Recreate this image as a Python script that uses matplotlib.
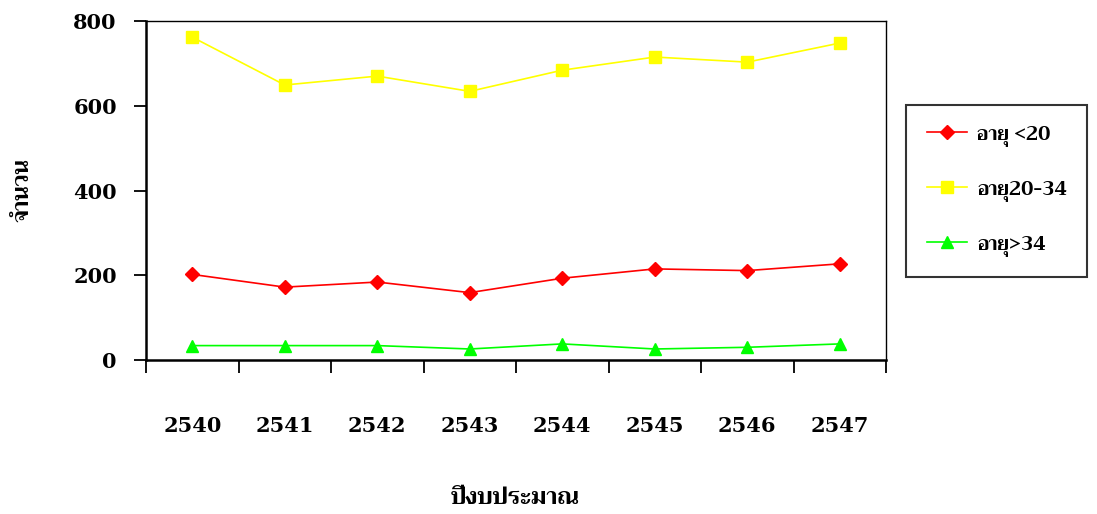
import numpy as np
import matplotlib
matplotlib.use("Agg")
import matplotlib.pyplot as plt
from matplotlib import font_manager
from matplotlib.ft2font import FT2Font

# ข้อมูลจำนวนจำแนกตามช่วงอายุ
years = ['2540', '2541', '2542', '2543', '2544', '2545', '2546', '2547']
age_lt20 = [202, 172, 184, 159, 193, 215, 211, 227]
age_20_34 = [762, 649, 670, 634, 684, 715, 703, 748]
age_gt34 = [34, 34, 34, 26, 38, 26, 30, 38]
series_names = ['อายุ <20', 'อายุ20-34', 'อายุ>34']


def find_thai_font():
    # หาฟอนต์ที่มีตัวอักษรไทย
    best = None
    for f in font_manager.fontManager.ttflist:
        try:
            cmap = FT2Font(f.fname).get_charmap()
        except Exception:
            continue
        if ord('อ') in cmap and ord('ำ') in cmap:
            if best is None or 'bold' in str(f.weight).lower() or f.weight == 700:
                best = f
    return best.name if best else 'DejaVu Sans'


thai_font = find_thai_font()
num_font = 'DejaVu Serif'

fig = plt.figure(figsize=(10.97, 5.14), dpi=100)
ax = fig.add_axes([0.1331, 0.2996, 0.6746, 0.6595])

x = np.arange(len(years))
ax.plot(x, age_lt20, color='#ff0000', lw=1.2, marker='D', ms=7.5, label=series_names[0])
ax.plot(x, age_20_34, color='#ffff00', lw=1.2, marker='s', ms=8.5, label=series_names[1])
ax.plot(x, age_gt34, color='#00ff00', lw=1.2, marker='^', ms=9, label=series_names[2])

ax.set_xlim(-0.5, len(years) - 0.5)
ax.set_ylim(0, 800)
ax.set_yticks([0, 200, 400, 600, 800])

# เส้นแบ่งหมวดที่แกน x
ax.set_xticks(np.arange(-0.5, len(years), 1.0))
ax.set_xticklabels([])
ax.set_xticks(x, minor=True)
ax.set_xticklabels(years, minor=True, fontfamily=num_font, fontweight='bold', fontsize=15)
ax.tick_params(axis='x', which='major', direction='out', length=9, width=1.3)
ax.tick_params(axis='x', which='minor', length=0, pad=40)
ax.tick_params(axis='y', direction='out', length=9, width=1.3, pad=12)
for lab in ax.get_yticklabels():
    lab.set_fontfamily(num_font)
    lab.set_fontweight('bold')
    lab.set_fontsize(15)

for s in ['left', 'bottom']:
    ax.spines[s].set_linewidth(1.8)
for s in ['top', 'right']:
    ax.spines[s].set_linewidth(1.0)

fig.text(0.021, 0.63, 'จำนวน', rotation=90, ha='center', va='center',
         fontfamily=[thai_font, 'DejaVu Sans'], fontweight='bold', fontsize=16)
fig.text(0.47, 0.03, 'ปีงบประมาณ', ha='center', va='center',
         fontfamily=[thai_font, 'DejaVu Sans'], fontweight='bold', fontsize=17)

leg = fig.legend(loc='upper left', bbox_to_anchor=(0.826, 0.796),
                 frameon=True, fancybox=False, edgecolor='black', handlelength=2.1,
                 labelspacing=1.75, borderpad=1.05, borderaxespad=0, handletextpad=0.5,
                 prop={'family': [thai_font, 'DejaVu Sans'], 'weight': 'bold', 'size': 14})
leg.get_frame().set_linewidth(1.5)

fig.savefig('out.png', dpi=100)
